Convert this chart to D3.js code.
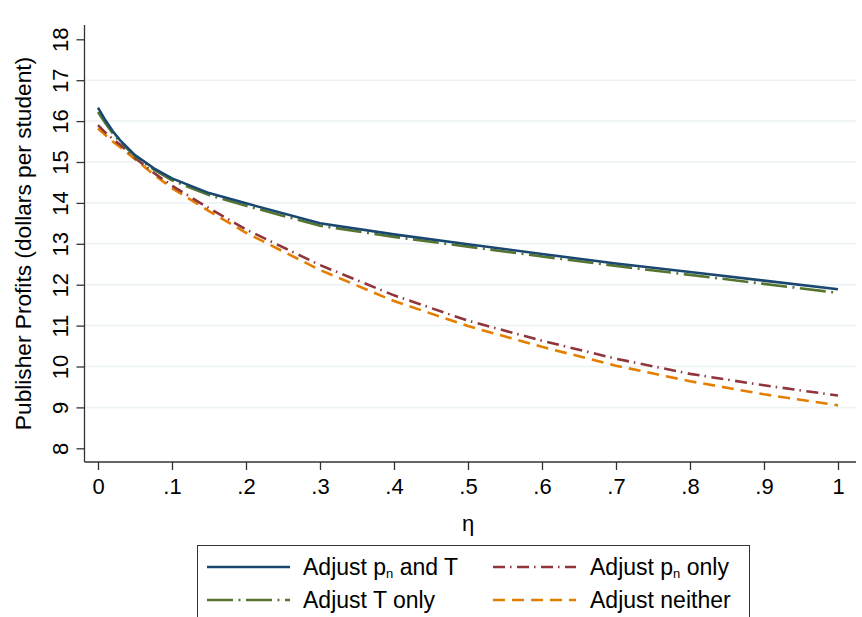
<!DOCTYPE html>
<html>
<head>
<meta charset="utf-8">
<script src="https://cdn.jsdelivr.net/npm/d3@7"></script>
<style>
  body { margin: 0; background: #fff; }
  svg { font-family: "Liberation Sans", Arial, sans-serif; }
</style>
</head>
<body>
<div id="chart"></div>
<script>
// eta values at which the curves were computed
const eta = [0, 0.01, 0.02, 0.03, 0.05, 0.075, 0.1, 0.15, 0.2, 0.3, 0.4, 0.5, 0.6, 0.7, 0.8, 0.9, 1];

// publisher profits, dollars per student
const adjustBoth    = [16.33, 16.02, 15.75, 15.53, 15.17, 14.85, 14.60, 14.24, 13.99, 13.50, 13.23, 12.99, 12.75, 12.52, 12.31, 12.10, 11.89];
const adjustTOnly   = [16.22, 15.95, 15.70, 15.49, 15.14, 14.82, 14.55, 14.19, 13.93, 13.44, 13.17, 12.93, 12.69, 12.46, 12.24, 12.02, 11.80];
const adjustPnOnly  = [15.90, 15.72, 15.56, 15.42, 15.10, 14.74, 14.42, 13.87, 13.35, 12.48, 11.74, 11.12, 10.63, 10.19, 9.82, 9.54, 9.29];
const adjustNeither = [15.82, 15.66, 15.50, 15.36, 15.07, 14.70, 14.36, 13.80, 13.27, 12.36, 11.60, 10.99, 10.48, 10.02, 9.64, 9.32, 9.05];

const xTicks = [0, 0.1, 0.2, 0.3, 0.4, 0.5, 0.6, 0.7, 0.8, 0.9, 1];
const xTickLabels = ["0", ".1", ".2", ".3", ".4", ".5", ".6", ".7", ".8", ".9", "1"];
const yTicks = [8, 9, 10, 11, 12, 13, 14, 15, 16, 17, 18];

const series = [
    { values: adjustBoth,    color: "#1a476f", dash: null,              main: "Adjust p", sub: "n", rest: " and T" },
    { values: adjustTOnly,   color: "#55752f", dash: "26,5.5,2,5.5",    main: "Adjust T only" },
    { values: adjustPnOnly,  color: "#90353b", dash: "12,5,1.5,5.5",    main: "Adjust p", sub: "n", rest: " only" },
    { values: adjustNeither, color: "#e37e00", dash: "12,7",            main: "Adjust neither" }
];

const W = 862, H = 617;
const svg = d3.select("#chart").append("svg")
    .attr("width", W)
    .attr("height", H);

const x = d3.scaleLinear().domain([0, 1]).range([98, 838]);
const y = d3.scaleLinear().domain([8, 18]).range([448.3, 39.3]);

const axisX = 84.5, axisY = 462, axisRight = 856, axisTop = 25;

// gridlines
svg.append("g")
    .selectAll("line")
    .data(yTicks.filter(d => d > 8 && d < 18))
    .enter()
    .append("line")
    .attr("x1", axisX)
    .attr("x2", axisRight)
    .attr("y1", d => y(d))
    .attr("y2", d => y(d))
    .attr("stroke", "#eaf2f3")
    .attr("stroke-width", 1.5);

// y axis
const yAxis = svg.append("g")
    .attr("transform", `translate(${axisX},0)`)
    .call(d3.axisLeft(y).tickValues(yTicks).tickSize(8).tickPadding(0).tickFormat(d3.format("d")));
yAxis.select(".domain").attr("d", `M0,${axisTop}V${axisY}`);
yAxis.selectAll(".domain, .tick line").attr("stroke", "#333").attr("stroke-width", 1.3);
yAxis.selectAll(".tick text")
    .attr("x", 0).attr("y", 0).attr("dy", 0)
    .attr("transform", "translate(-17,0) rotate(-90)")
    .style("text-anchor", "middle")
    .style("font-size", "22px")
    .attr("fill", "#000");

// x axis
const xAxis = svg.append("g")
    .attr("transform", `translate(0,${axisY})`)
    .call(d3.axisBottom(x).tickValues(xTicks).tickSize(8).tickPadding(8)
        .tickFormat((d, i) => xTickLabels[i]));
xAxis.select(".domain").attr("d", `M${axisX},0H${axisRight}`);
xAxis.selectAll(".domain, .tick line").attr("stroke", "#333").attr("stroke-width", 1.3);
xAxis.selectAll(".tick text").style("font-size", "22px").attr("fill", "#000");

// axis titles
svg.append("text")
    .attr("transform", `translate(31,${(57 + 430) / 2}) rotate(-90)`)
    .style("text-anchor", "middle")
    .style("font-size", "22.7px")
    .text("Publisher Profits (dollars per student)");

svg.append("text")
    .attr("x", x(0.5))
    .attr("y", 531)
    .style("text-anchor", "middle")
    .style("font-size", "22px")
    .text("η");

// lines
const line = d3.line()
    .x((d, i) => x(eta[i]))
    .y(d => y(d));

svg.append("g")
    .selectAll("path")
    .data(series.slice().reverse())
    .enter()
    .append("path")
    .attr("d", d => line(d.values))
    .attr("fill", "none")
    .attr("stroke", d => d.color)
    .attr("stroke-width", 2.6)
    .attr("stroke-dasharray", d => d.dash);

// legend
const legend = svg.append("g");
legend.append("rect")
    .attr("x", 197.5)
    .attr("y", 545.5)
    .attr("width", 552)
    .attr("height", 90)
    .attr("fill", "#fff")
    .attr("stroke", "#333")
    .attr("stroke-width", 1);

const legendPos = [
    { lx: 207, tx: 303, ly: 567 },
    { lx: 207, tx: 303, ly: 600 },
    { lx: 493, tx: 590, ly: 567 },
    { lx: 493, tx: 590, ly: 600 }
];
series.forEach((s, k) => {
    const p = legendPos[k];
    legend.append("line")
        .attr("x1", p.lx).attr("x2", p.lx + 83)
        .attr("y1", p.ly).attr("y2", p.ly)
        .attr("stroke", s.color)
        .attr("stroke-width", 2.6)
        .attr("stroke-dasharray", s.dash);
    const t = legend.append("text")
        .attr("x", p.tx)
        .attr("y", p.ly + 8)
        .style("font-size", "23px");
    t.append("tspan").text(s.main);
    if (s.sub) {
        t.append("tspan").attr("dy", 3).style("font-size", "13px").text(s.sub);
        t.append("tspan").attr("dy", -3).text(s.rest);
    }
});
</script>
</body>
</html>
